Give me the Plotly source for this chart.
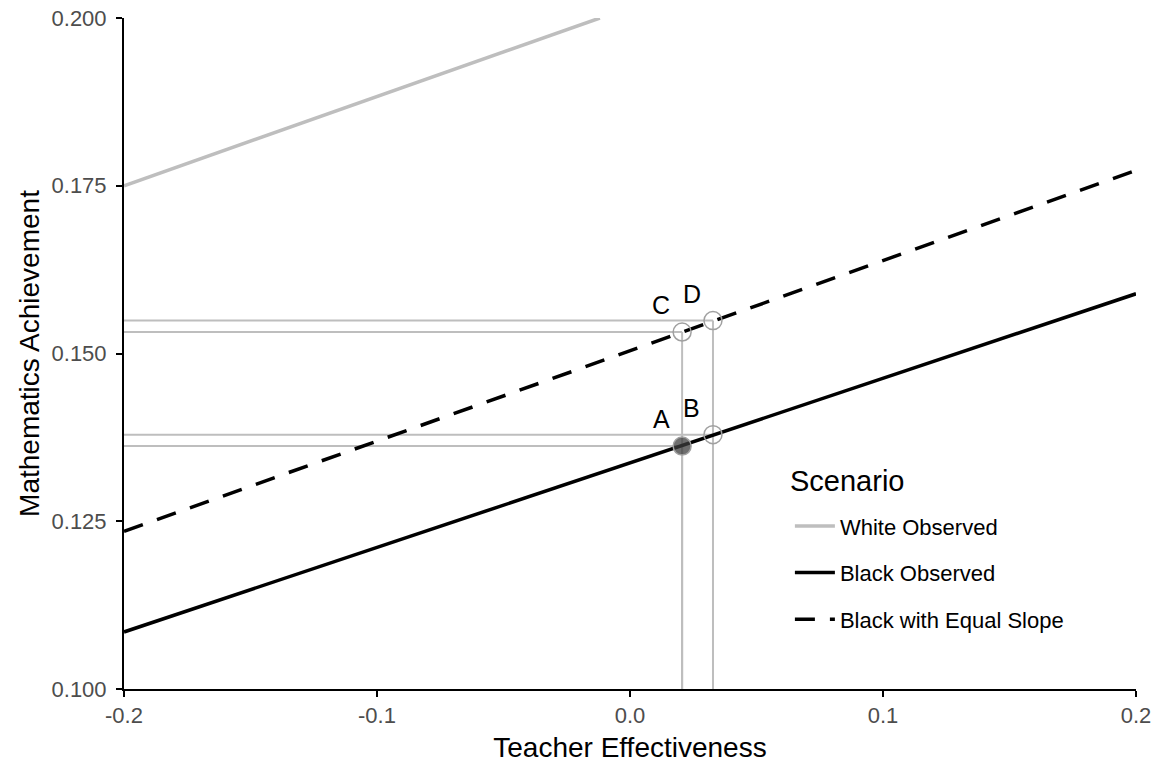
import plotly.graph_objects as go

# Scenario lines (endpoints)
x_range = [-0.2, 0.2]
white_x = [-0.2, -0.0119]
white_y = [0.175, 0.200]
black_obs_y = [0.1085, 0.1589]
black_eq_y = [0.1235, 0.1773]

# Highlighted points
pt_labels = ["A", "B", "C", "D"]
pt_x = [0.0206, 0.0328, 0.0206, 0.0328]
pt_y = [0.1362, 0.1379, 0.1532, 0.1549]
pt_filled = [True, False, False, False]

x_ticks = [-0.2, -0.1, 0.0, 0.1, 0.2]
x_ticktext = ["-0.2", "-0.1", "0.0", "0.1", "0.2"]
y_ticks = [0.100, 0.125, 0.150, 0.175, 0.200]
y_ticktext = ["0.100", "0.125", "0.150", "0.175", "0.200"]

GRAY = "#bebebe"
FONT = "Liberation Sans, Arial, sans-serif"

fig = go.Figure()

# Reference guide lines (horizontal from left axis to point, vertical from bottom to point)
for px, py in zip(pt_x, pt_y):
    fig.add_trace(go.Scatter(x=[x_range[0], px], y=[py, py], mode="lines",
                             line=dict(color=GRAY, width=2), showlegend=False, hoverinfo="skip"))
    fig.add_trace(go.Scatter(x=[px, px], y=[y_ticks[0], py], mode="lines",
                             line=dict(color=GRAY, width=2), showlegend=False, hoverinfo="skip"))

fig.add_trace(go.Scatter(x=white_x, y=white_y, mode="lines", name="White Observed",
                         legendgroup="w", line=dict(color=GRAY, width=3.5)))
fig.add_trace(go.Scatter(x=x_range, y=black_obs_y, mode="lines", name="Black Observed",
                         legendgroup="b", line=dict(color="black", width=3.5)))
fig.add_trace(go.Scatter(x=x_range, y=black_eq_y, mode="lines", name="Black with Equal Slope",
                         legendgroup="e", line=dict(color="black", width=3.5, dash="20px,15px")))

fill_colors = ["rgba(60,60,60,0.75)" if f else "rgba(0,0,0,0)" for f in pt_filled]
fig.add_trace(go.Scatter(x=pt_x, y=pt_y, mode="markers", showlegend=False, hoverinfo="skip",
                         marker=dict(size=18, color=fill_colors,
                                     line=dict(color="#a0a0a0", width=1.5)),
                         cliponaxis=False))

for lab, px, py in zip(pt_labels, pt_x, pt_y):
    fig.add_annotation(x=px, y=py, text=lab, showarrow=False, xshift=-21, yshift=27,
                       font=dict(family=FONT, size=25, color="black"))

# Legend title as a separate text
fig.add_annotation(xref="paper", yref="paper", x=0.656, y=0.31, xanchor="left", yanchor="middle",
                   text="Scenario", showarrow=False,
                   font=dict(family=FONT, size=29, color="black"))

fig.update_layout(
    width=1157, height=763,
    margin=dict(l=124, r=21, t=18, b=74, autoexpand=False),
    paper_bgcolor="white", plot_bgcolor="white",
    font=dict(family=FONT, color="#4d4d4d"),
    showlegend=True,
    legend=dict(x=0.658, y=0.274, xanchor="left", yanchor="top",
                font=dict(size=22, color="black", family=FONT),
                bgcolor="rgba(0,0,0,0)", tracegroupgap=15, itemwidth=40),
)
fig.update_xaxes(range=x_range, tickvals=x_ticks, ticktext=x_ticktext, automargin=False,
                 ticklabeloverflow="allow",
                 showline=True, linecolor="black", linewidth=2, mirror=False,
                 ticks="outside", ticklen=6, tickwidth=1.5, tickcolor="black",
                 showgrid=False, zeroline=False,
                 tickfont=dict(size=22, color="#4d4d4d", family=FONT),
                 title=dict(text="Teacher Effectiveness", font=dict(size=28, color="black", family=FONT),
                            standoff=12))
fig.update_yaxes(range=[y_ticks[0], y_ticks[-1]], tickvals=y_ticks, ticktext=y_ticktext, automargin=False,
                 ticklabeloverflow="allow", ticklabelstandoff=5,
                 showline=True, linecolor="black", linewidth=2,
                 ticks="outside", ticklen=6, tickwidth=1.5, tickcolor="black",
                 showgrid=False, zeroline=False,
                 tickfont=dict(size=22, color="#4d4d4d", family=FONT),
                 title=dict(text="Mathematics Achievement", font=dict(size=28, color="black", family=FONT),
                            standoff=4))

# Remove the page's default body margin so the figure fills the window exactly
fig.write_html("out.html", config={"displayModeBar": False},
               post_script="document.body.style.margin='0';")
